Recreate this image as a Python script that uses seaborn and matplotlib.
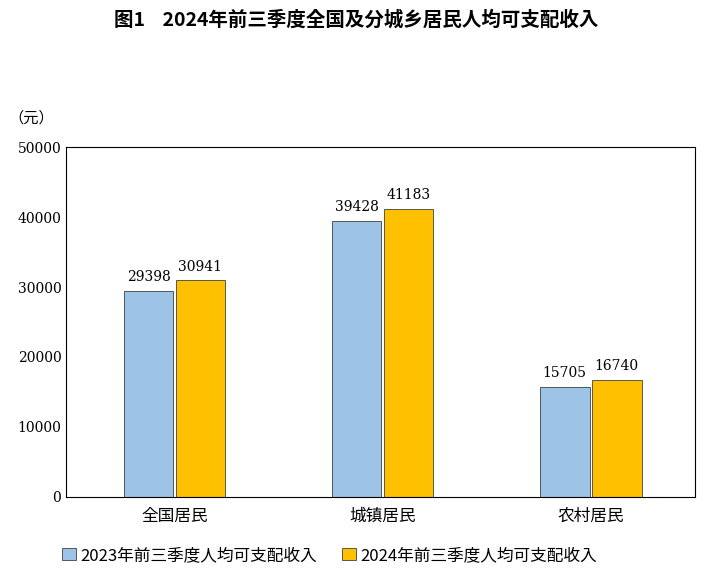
import matplotlib
matplotlib.use("Agg")
import matplotlib.pyplot as plt
from matplotlib import font_manager as fm
import seaborn as sns
import pandas as pd
import glob

categories = ["全国居民", "城镇居民", "农村居民"]
values_2023 = [29398, 39428, 15705]
values_2024 = [30941, 41183, 16740]
series = ["2023年前三季度人均可支配收入", "2024年前三季度人均可支配收入"]

df = pd.DataFrame({
    "cat": categories * 2,
    "val": values_2023 + values_2024,
    "s": [series[0]] * 3 + [series[1]] * 3,
})

cjk = None
for pat in ["/usr/share/fonts/**/NotoSansCJK*", "/usr/share/fonts/**/NotoSerifCJK*", "/usr/share/fonts/**/*CJK*",
            "/usr/local/share/fonts/**/*CJK*", "/root/.fonts/**/*CJK*"]:
    files = sorted(glob.glob(pat, recursive=True))
    if files:
        sc = [f for f in files if "SC" in f or "Regular" in f]
        cjk = (sc or files)[0]
        break
if cjk:
    fm.fontManager.addfont(cjk)
    name = fm.FontProperties(fname=cjk).get_name()
else:
    name = "Noto Sans CJK SC"
plt.rcParams["font.family"] = [name, "DejaVu Sans"]
plt.rcParams["axes.unicode_minus"] = False

fig = plt.figure(figsize=(7.12, 5.75), dpi=100)
ax = fig.add_axes([0.093, 0.136, 0.883, 0.608])
sns.barplot(data=df, x="cat", y="val", hue="s", order=categories, hue_order=series,
            palette=["#9DC3E6", "#FFC000"], saturation=1, width=0.5, gap=0.05, ax=ax,
            edgecolor="#404040", linewidth=0.6, legend=True)
for c in ax.containers:
    ax.bar_label(c, padding=5, fontsize=10, fontfamily="DejaVu Serif")
ax.set_xlim(-0.52, 2.5)
ax.set_ylim(0, 50000)
ax.set_yticks(range(0, 50001, 10000))
ax.set_yticklabels([str(v) for v in range(0, 50001, 10000)], fontfamily="DejaVu Serif", fontsize=10)
ax.tick_params(axis="x", labelsize=12, length=0, pad=8)
ax.tick_params(axis="y", length=0)
ax.set_xlabel("")
ax.set_ylabel("")
for s in ax.spines.values():
    s.set_color("black"); s.set_linewidth(0.8)
ax.text(-0.02, 1.07, "（元）", transform=ax.transAxes, ha="right", fontsize=11)
fig.text(0.5, 0.965, "图1    2024年前三季度全国及分城乡居民人均可支配收入", ha="center",
         va="center", fontsize=14, fontweight="bold")
leg = ax.legend(loc="upper left", bbox_to_anchor=(-0.03, -0.1), ncol=2, frameon=False,
                fontsize=12, handlelength=0.8, handleheight=0.8, handletextpad=0.3, columnspacing=1.5)
fig.savefig("out.png", dpi=100)
